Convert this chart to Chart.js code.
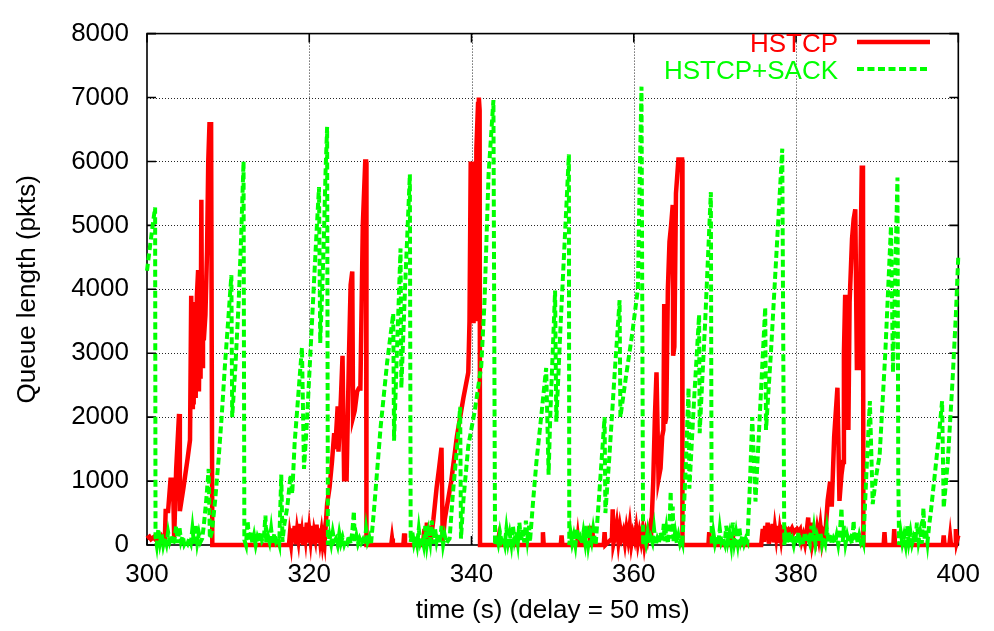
<!DOCTYPE html>
<html>
<head>
<meta charset="utf-8">
<script src="https://cdn.jsdelivr.net/npm/chart.js@4.4.0/dist/chart.umd.min.js"></script>
<style>
  body { margin: 0; background: #fff; }
  #wrap { width: 994px; height: 631px; }
</style>
</head>
<body>
<div id="wrap"><canvas id="queueChart" width="994" height="631"></canvas></div>
<script>
// queue length samples, [time (s), queue (pkts)]
const hstcp = [
  [300,100],[300.3,130],[300.5,90],[300.8,120],[301.1,80],[301.3,110],[301.6,60],[301.8,120],[302.0,60],[302.2,100],
  [302.3,530],[302.6,530],[302.9,1020],[303.2,1020],[303.35,120],[303.6,1200],[303.95,2050],[304.05,530],[304.5,900],
  [305.0,1350],[305.3,1640],[305.45,3900],[305.55,2160],[305.65,3500],[305.75,2200],[305.9,3800],[306.0,2300],
  [306.15,3900],[306.3,4300],[306.4,2400],[306.5,3600],[306.6,2600],[306.7,5400],[306.8,2800],[306.9,3800],
  [307.0,3200],[307.2,3600],[307.4,4600],[307.55,6000],[307.7,6580],[307.9,6580],[308.05,0],
  [317.5,0],[317.6,150],[317.75,20],[317.9,260],[318.05,60],[318.2,300],[318.35,10],[318.5,220],[318.65,90],
  [318.8,330],[318.95,30],[319.1,180],[319.25,0],[319.4,280],[319.55,120],[319.7,350],[319.85,40],[320.0,240],
  [320.15,80],[320.3,300],[320.45,10],[320.6,200],[320.75,100],[320.9,320],[321.05,30],[321.2,260],[321.35,70],
  [321.5,200],[321.65,20],[321.8,150],[321.9,60],
  [322.2,640],[322.5,900],[322.8,1300],[323.07,1750],[323.2,1500],[323.5,2170],[323.6,1460],[323.9,2300],
  [324.1,2960],[324.3,1030],[324.6,1030],[324.9,3000],[325.1,4070],[325.3,4280],[325.4,2000],[325.6,2100],
  [325.9,2400],[326.1,2450],[326.3,2450],[326.6,5000],[326.9,6000],[327.0,6000],[327.05,0],
  [330.1,0],[330.2,100],[330.3,0],[331.6,0],[331.7,180],[331.8,0],[334.0,0],
  [334.2,250],[334.35,50],[334.5,350],[334.65,100],[334.8,300],[334.95,40],[335.1,200],
  [335.3,400],[335.7,900],[336.0,1200],[336.3,1520],[336.45,50],[336.7,400],[337.5,1000],[338.2,1700],
  [339.0,2300],[339.6,2700],[339.75,3500],[339.9,6000],[340.0,3470],[340.15,6000],[340.25,3470],[340.4,6000],
  [340.5,3500],[340.6,6200],[340.8,6900],[340.9,7000],[341.0,6800],[341.05,0],
  [343.2,0],[343.3,80],[343.4,0],[348.7,0],[348.8,200],[348.9,0],[351.0,0],[351.1,150],[351.2,0],[353.0,0],
  [353.1,120],[353.2,0],[354.5,0],[354.6,300],[354.7,30],[354.9,250],[355.0,0],[356.3,0],[356.4,200],[356.5,0],
  [357.3,100],[357.4,560],[357.5,30],[357.7,150],[357.9,320],[358.1,60],[358.3,280],[358.5,120],[358.7,210],
  [358.9,40],[359.1,250],[359.3,90],[359.5,300],[359.7,20],[359.9,180],[360.1,80],[360.3,260],[360.5,40],
  [360.7,200],[360.9,60],[361.1,240],[361.3,10],[361.5,190],[361.7,80],[361.9,220],[362.1,50],
  [362.4,1000],[362.6,2000],[362.8,2700],[363.05,1030],[363.3,1200],[363.5,1700],[363.65,1800],[363.75,3770],
  [363.85,1900],[364.0,2000],[364.2,4000],[364.4,4740],[364.6,5000],[364.8,5320],[364.85,2960],[365.0,3100],
  [365.2,5500],[365.5,6030],[365.95,6030],[366.0,0],
  [369.2,0],[369.3,200],[369.4,0],[371.7,0],[371.8,180],[371.9,0],[372.1,0],[372.2,150],[372.3,0],[375.7,0],
  [375.9,250],[376.05,50],[376.2,300],[376.35,80],[376.5,350],[376.65,20],[376.8,280],[376.95,100],[377.1,330],
  [377.25,40],[377.4,260],[377.55,120],[377.7,300],[377.85,30],[378.0,220],[378.15,90],[378.3,250],
  [378.5,220],[378.7,250],[378.9,200],[379.1,240],[379.3,210],[379.5,260],[379.7,190],[379.9,230],[380.1,250],
  [380.3,200],[380.5,240],[380.7,60],[380.9,150],[381.1,30],[381.3,200],[381.5,430],[381.6,80],[381.8,350],
  [382.0,20],[382.2,150],[382.4,60],[382.6,250],[382.8,100],[383.0,300],[383.2,50],[383.4,200],
  [383.6,150],[383.9,700],[384.2,990],[384.4,600],[384.7,1700],[385.1,2460],[385.35,690],[385.6,1100],
  [385.8,1300],[385.9,3000],[386.05,3880],[386.3,3880],[386.45,1800],[386.6,3800],[386.9,4790],[387.1,5100],
  [387.3,5250],[387.5,2770],[387.8,2770],[388.0,5000],[388.1,5900],[388.25,5900],[388.3,0],
  [390.8,0],[390.9,200],[391.0,0],[392.0,0],[392.1,250],[392.2,0],[398.1,0],[398.2,150],[398.3,0],
  [398.9,0],[399.0,120],[399.1,0],[399.6,0],[399.7,250],[399.8,50],[400,150]
];

const hstcpSack = [
  [300,4290],[300.4,4700],[300.8,5100],[301.0,5280],[301.05,120],[301.2,0],[301.4,250],[301.6,40],[301.8,180],
  [302.0,0],[302.2,120],[302.4,20],[302.6,200],[302.8,60],[303.0,150],[303.2,0],[303.4,90],[303.6,300],
  [303.8,30],[304.0,280],[304.2,60],[304.4,140],[304.6,10],[304.8,60],[305.0,20],[305.2,100],[305.4,30],
  [305.6,260],[305.8,20],[306.0,320],[306.2,40],[306.4,180],[306.6,50],[306.8,100],
  [307.0,300],[307.3,700],[307.6,1190],[307.75,100],[308.0,200],[308.4,700],[308.8,1300],[309.2,2000],
  [309.6,2800],[310.0,3500],[310.4,4220],[310.5,2000],[310.9,2800],[311.3,3800],[311.6,4800],[311.9,6000],[312.0,80],
  [312.2,0],[312.4,380],[312.6,60],[312.8,200],[313.0,20],[313.2,150],[313.4,0],[313.6,120],[313.8,40],
  [314.0,200],[314.2,60],[314.4,100],[314.6,460],[314.7,30],[314.9,150],[315.1,50],[315.3,250],[315.5,20],
  [315.7,180],[315.9,60],[316.1,120],[316.3,20],[316.55,1100],[316.7,50],
  [316.9,300],[317.3,600],[317.7,1100],[317.9,800],[318.2,1600],[318.5,2100],[318.8,2600],[319.1,3090],
  [319.35,1190],[319.7,1900],[320.1,2900],[320.5,3900],[320.9,4900],[321.2,5600],[321.35,3160],[321.6,4000],
  [321.8,4800],[322.0,5800],[322.2,6540],[322.3,0],
  [322.5,150],[322.7,20],[322.9,200],[323.1,60],[323.3,100],[323.5,0],[323.7,180],[323.9,30],[324.1,120],
  [324.3,10],[324.5,90],[324.7,40],[324.9,150],[325.1,20],[325.3,200],[325.5,530],[325.6,60],[325.8,150],
  [326.0,20],[326.2,100],[326.4,30],[326.6,80],[326.8,0],[327.0,250],[327.2,50],[327.4,120],
  [327.6,0],[328.0,580],[328.8,1850],[329.6,2860],[330.35,3620],[330.45,1630],[330.8,3000],[331.25,4640],
  [331.35,2460],[331.8,4000],[332.4,5800],[332.5,50],
  [332.7,200],[332.9,30],[333.1,150],[333.3,10],[333.5,250],[333.7,40],[333.9,120],[334.1,0],[334.3,300],
  [334.5,20],[334.7,200],[334.9,50],[335.1,380],[335.3,20],[335.5,260],[335.7,60],[335.9,180],[336.1,20],
  [336.3,300],[336.5,10],[336.7,150],[336.9,30],
  [337.3,100],[337.7,800],[338.2,1500],[338.6,2160],[338.7,100],[339.0,700],[339.6,1550],[340.4,2100],
  [341.2,2800],[341.6,3800],[342.1,5800],[342.7,6960],[342.9,0],
  [343.1,150],[343.3,30],[343.5,200],[343.7,60],[343.9,120],[344.1,10],[344.3,250],[344.5,40],[344.7,180],
  [344.9,20],[345.1,300],[345.3,80],[345.5,200],[345.7,30],[345.9,350],[346.1,60],[346.3,250],[346.5,40],
  [346.7,380],[346.9,100],[347.1,300],[347.2,50],
  [347.6,700],[348.0,1300],[348.5,1900],[349.2,2770],[349.5,1100],[349.7,2000],[350.3,3980],[350.45,1930],
  [351.0,3500],[351.5,4800],[352.0,6110],[352.05,0],
  [352.2,200],[352.4,30],[352.6,150],[352.8,0],[353.0,250],[353.2,60],[353.4,120],[353.6,20],[353.8,200],
  [354.0,40],[354.2,300],[354.4,10],[354.6,180],[354.8,60],[355.0,250],[355.3,0],
  [355.8,900],[356.4,2000],[356.5,500],[357.0,1400],[357.6,2600],[358.25,3830],[358.35,2000],[359.0,2600],
  [359.8,3300],[360.5,4000],[360.7,5500],[360.95,7170],[361.15,0],
  [361.3,150],[361.5,30],[361.7,200],[361.9,10],[362.1,120],[362.3,40],[362.5,250],[362.7,0],[362.9,100],
  [363.1,30],[363.3,200],[363.5,50],[363.7,330],[363.8,60],[364.0,250],[364.2,20],[364.4,300],[364.55,840],
  [364.65,100],[364.8,600],[364.9,50],[365.1,200],[365.3,30],[365.5,150],[365.7,20],[365.9,100],
  [366.0,50],[366.4,1200],[366.75,2460],[366.85,880],[367.4,2200],[368.05,3600],[368.12,1750],[368.8,3500],
  [369.5,5520],[369.6,0],
  [369.8,200],[370.0,30],[370.2,150],[370.4,0],[370.6,250],[370.8,40],[371.0,100],[371.2,20],[371.4,300],
  [371.6,60],[371.8,180],[372.0,10],[372.2,350],[372.4,50],[372.6,200],[372.8,30],[373.0,280],[373.2,60],
  [373.4,150],[373.6,20],[373.8,100],
  [374.0,50],[374.3,900],[374.6,2000],[375.0,680],[375.6,2200],[376.2,3720],[376.3,1800],[376.9,3000],
  [377.6,4600],[378.3,6200],[378.55,0],
  [378.7,150],[378.9,20],[379.1,200],[379.3,40],[379.5,100],[379.7,0],[379.9,150],[380.1,30],[380.3,200],
  [380.5,60],[380.7,120],[380.9,10],[381.1,200],[381.3,50],[381.5,100],[381.7,20],[381.9,300],[382.0,40],
  [382.2,250],[382.4,20],[382.6,150],[382.8,60],[383.0,200],[383.2,10],[383.4,120],[383.6,30],[383.8,250],
  [384.0,40],[384.2,180],[384.4,20],[384.6,100],[384.8,30],[385.0,150],[385.2,10],[385.4,200],[385.6,580],
  [385.75,50],[385.9,300],[386.1,20],[386.3,150],[386.5,40],[386.7,100],[386.9,20],[387.1,380],[387.2,60],
  [387.4,200],[387.6,20],[387.8,150],[388.0,40],[388.2,100],
  [388.3,50],[388.7,1200],[389.1,2250],[389.45,640],[389.9,1100],[390.3,1400],[391.0,3000],[391.7,4990],
  [391.95,2700],[392.5,5750],[392.6,1100],[392.7,0],
  [392.9,200],[393.1,30],[393.3,150],[393.5,10],[393.7,300],[393.9,50],[394.1,200],[394.3,20],[394.5,120],
  [394.7,40],[394.9,350],[395.1,60],[395.3,200],[395.5,20],[395.7,580],[395.85,80],[396.0,250],[396.2,40],
  [396.4,300],
  [396.6,500],[397.1,1100],[397.6,1700],[398.0,2250],[398.2,580],[398.7,1300],[399.3,2600],[399.7,3600],[400,4530]
];

const xTicks = [300, 320, 340, 360, 380, 400];
const yTicks = [0, 1000, 2000, 3000, 4000, 5000, 6000, 7000, 8000];

const RED = '#ff0000';
const GREEN = '#00ff00';
const FONT = '"Liberation Sans", Arial, Helvetica, sans-serif';
const toPoints = rows => rows.map(([t, q]) => ({x: t, y: q}));

// gnuplot style frame: dotted grid, solid border, ticks pointing inward on every side
const framePlugin = {
  id: 'frame',
  beforeDatasetsDraw(chart) {
    const {ctx, chartArea: a, scales: {x, y}} = chart;
    ctx.save();
    ctx.lineWidth = 1;
    ctx.strokeStyle = 'rgba(0,0,0,0.85)';
    ctx.setLineDash([1, 2]);
    for (const v of xTicks.slice(1, -1)) {
      const px = Math.round(x.getPixelForValue(v)) + 0.5;
      ctx.beginPath(); ctx.moveTo(px, a.top); ctx.lineTo(px, a.bottom); ctx.stroke();
    }
    for (const v of yTicks.slice(1, -1)) {
      const py = Math.round(y.getPixelForValue(v)) + 0.5;
      ctx.beginPath(); ctx.moveTo(a.left, py); ctx.lineTo(a.right, py); ctx.stroke();
    }
    ctx.setLineDash([]);
    ctx.strokeStyle = '#000';
    ctx.lineWidth = 1.6;
    ctx.strokeRect(a.left, a.top, a.right - a.left, a.bottom - a.top);
    ctx.beginPath();
    for (const v of xTicks) {
      const px = x.getPixelForValue(v);
      ctx.moveTo(px, a.bottom); ctx.lineTo(px, a.bottom - 9);
      ctx.moveTo(px, a.top); ctx.lineTo(px, a.top + 9);
    }
    for (const v of yTicks) {
      const py = y.getPixelForValue(v);
      ctx.moveTo(a.left, py); ctx.lineTo(a.left + 9, py);
      ctx.moveTo(a.right, py); ctx.lineTo(a.right - 9, py);
    }
    ctx.stroke();
    ctx.restore();
  }
};

// key in the top right corner: label text in the series colour, sample line after it
const keyPlugin = {
  id: 'key',
  afterDatasetsDraw(chart) {
    const {ctx} = chart;
    const rows = [
      {text: 'HSTCP', color: RED, width: 4.5, dash: [], y: 42},
      {text: 'HSTCP+SACK', color: GREEN, width: 4, dash: [7, 3.5], y: 69}
    ];
    ctx.save();
    ctx.font = '26px ' + FONT;
    ctx.textAlign = 'right';
    ctx.textBaseline = 'alphabetic';
    for (const r of rows) {
      ctx.fillStyle = r.color;
      ctx.fillText(r.text, 838, r.y + 9.5);
      ctx.strokeStyle = r.color;
      ctx.lineWidth = r.width;
      ctx.setLineDash(r.dash);
      ctx.beginPath(); ctx.moveTo(857, r.y); ctx.lineTo(930, r.y); ctx.stroke();
    }
    ctx.restore();
  }
};

new Chart(document.getElementById('queueChart'), {
  type: 'line',
  data: {
    datasets: [
      {
        label: 'HSTCP',
        data: toPoints(hstcp),
        borderColor: RED,
        borderWidth: 4.5,
        borderJoinStyle: 'miter',
        pointRadius: 0,
        tension: 0,
        clip: false,
        order: 1
      },
      {
        label: 'HSTCP+SACK',
        data: toPoints(hstcpSack),
        borderColor: GREEN,
        borderWidth: 4,
        borderDash: [7, 3.5],
        borderJoinStyle: 'miter',
        pointRadius: 0,
        tension: 0,
        clip: false,
        order: 0
      }
    ]
  },
  options: {
    responsive: false,
    animation: false,
    devicePixelRatio: 1,
    layout: {padding: {top: 19, right: 32, left: 0, bottom: 0}},
    plugins: {legend: {display: false}, tooltip: {enabled: false}},
    scales: {
      x: {
        type: 'linear',
        min: 300,
        max: 400,
        afterBuildTicks: s => { s.ticks = xTicks.map(v => ({value: v})); },
        afterFit: s => { s.height = 86; },
        grid: {display: false, drawTicks: false},
        border: {display: false},
        ticks: {color: '#000', padding: 14, maxRotation: 0, callback: v => String(v), font: {family: FONT, size: 26}},
        title: {display: true, text: 'time (s) (delay = 50 ms)', color: '#000', padding: {top: 4, bottom: 5}, font: {family: FONT, size: 26}}
      },
      y: {
        min: 0,
        max: 8000,
        afterBuildTicks: s => { s.ticks = yTicks.map(v => ({value: v})); },
        afterFit: s => { s.width = 147; },
        grid: {display: false, drawTicks: false},
        border: {display: false},
        ticks: {color: '#000', padding: 18, callback: v => String(v), font: {family: FONT, size: 26}},
        title: {display: true, text: 'Queue length (pkts)', color: '#000', padding: {top: 12, bottom: 4}, font: {family: FONT, size: 26}}
      }
    }
  },
  plugins: [framePlugin, keyPlugin]
});
</script>
</body>
</html>
